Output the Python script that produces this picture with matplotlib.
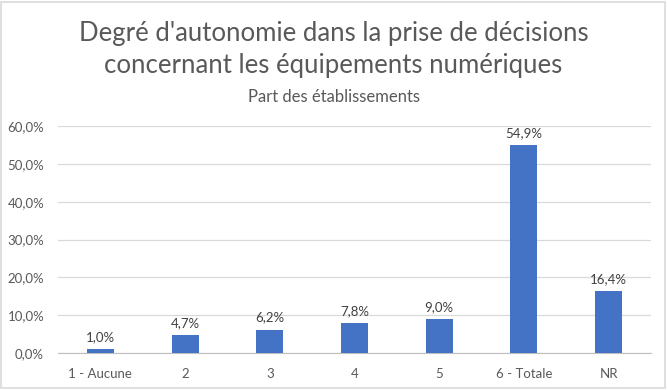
import matplotlib.pyplot as plt
from matplotlib.patches import Rectangle
from matplotlib.ticker import FuncFormatter

categories = ["1 - Aucune", "2", "3", "4", "5", "6 - Totale", "NR"]
values = [1.0, 4.7, 6.2, 7.8, 9.0, 54.9, 16.4]
yticks = [0, 10, 20, 30, 40, 50, 60]

plt.rcParams["font.family"] = ["Lato", "DejaVu Sans"]

fig = plt.figure(figsize=(6.67, 3.9), dpi=100)
ax = fig.add_axes([58 / 667, 37 / 390, 593 / 667, 227 / 390])

x = range(len(categories))
bars = ax.bar(x, values, width=0.32, color="#4472C4", zorder=3)
for xi, v in zip(x, values):
    ax.text(xi, v + 1.6, f"{v:.1f}%".replace(".", ","), ha="center", va="bottom",
            fontsize=9.5, color="#404040")

ax.set_xlim(-0.5, len(categories) - 0.5)
ax.set_ylim(0, 60)
ax.set_yticks(yticks)
ax.yaxis.set_major_formatter(FuncFormatter(lambda v, p: f"{v:.1f}%".replace(".", ",")))
ax.set_xticks(list(x))
ax.set_xticklabels(categories)
ax.tick_params(axis="both", length=0, labelsize=9.5, colors="#595959")
ax.tick_params(axis="y", pad=10)
ax.tick_params(axis="x", pad=11)
ax.grid(axis="y", color="#d9d9d9", linewidth=0.9, zorder=0)
for s in ["top", "right", "left"]:
    ax.spines[s].set_visible(False)
ax.spines["bottom"].set_color("#bfbfbf")

fig.text(0.5, 1 - 34 / 390, "Degré d'autonomie dans la prise de décisions",
         ha="center", va="center", fontsize=18.5, color="#595959")
fig.text(0.5, 1 - 66 / 390, "concernant les équipements numériques",
         ha="center", va="center", fontsize=18.5, color="#595959")
fig.text(0.5, 1 - 97 / 390, "Part des établissements",
         ha="center", va="center", fontsize=12, color="#595959")

fig.patches.append(Rectangle((0.002, 0.004), 0.995, 0.992, transform=fig.transFigure,
                             fill=False, edgecolor="#d9d9d9", linewidth=1.2))

fig.savefig("out.png", dpi=100)
